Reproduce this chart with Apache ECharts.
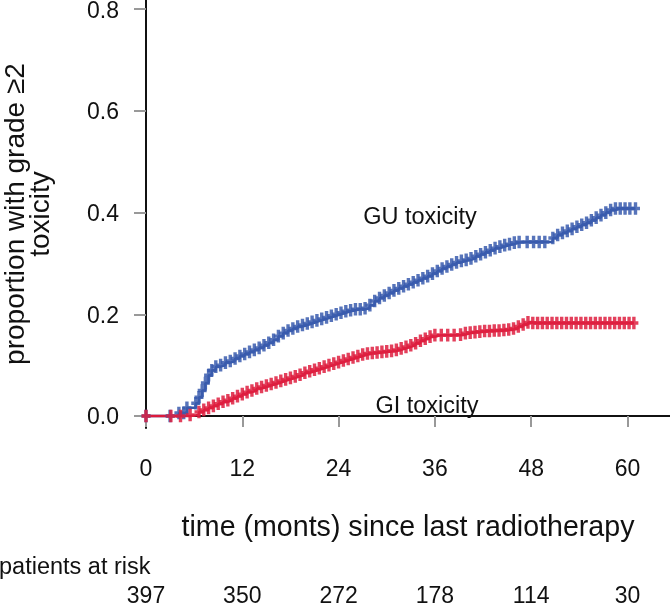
<!DOCTYPE html>
<html>
<head>
<meta charset="utf-8">
<script src="https://cdn.jsdelivr.net/npm/echarts@6/dist/echarts.min.js"></script>
<style>html,body{margin:0;padding:0;background:#fff}#c{width:670px;height:604px}</style>
</head>
<body>
<div id="c"></div>
<script>
// ---- data ----
const xTicks = [0, 12, 24, 36, 48, 60];
const yTicks = [0, 0.2, 0.4, 0.6, 0.8];
const atRisk = [397, 350, 272, 178, 114, 30];

const guTime = [0, 3.0, 4.1, 4.7, 5.1, 6.2, 6.6, 7.0, 7.4, 7.8, 8.2, 8.7, 9.3, 9.9, 10.5, 11.1, 11.7, 12.3, 12.9, 13.5, 14.1, 14.7, 15.3, 15.9, 16.5, 17.1, 17.7, 18.3, 18.9, 19.5, 20.1, 20.7, 21.3, 21.9, 22.5, 23.1, 23.7, 24.3, 24.9, 25.5, 26.1, 26.7, 27.3, 27.9, 28.5, 29.1, 29.7, 30.3, 30.9, 31.5, 32.1, 32.7, 33.3, 33.9, 34.5, 35.1, 35.7, 36.3, 36.9, 37.5, 38.1, 38.7, 39.3, 39.9, 40.5, 41.1, 41.7, 42.3, 42.9, 43.5, 44.1, 44.7, 45.3, 45.9, 46.5, 47.5, 48.3, 49.0, 49.7, 50.7, 51.3, 51.9, 52.5, 53.1, 53.7, 54.3, 54.9, 55.5, 56.1, 56.7, 57.3, 57.9, 58.5, 59.1, 59.7, 60.3, 61.0];
const guValue = [0, 0, 0.006, 0.006, 0.016, 0.025, 0.037, 0.05, 0.065, 0.08, 0.09, 0.097, 0.1, 0.105, 0.108, 0.113, 0.118, 0.122, 0.126, 0.13, 0.134, 0.139, 0.144, 0.15, 0.157, 0.163, 0.168, 0.172, 0.176, 0.179, 0.182, 0.185, 0.188, 0.191, 0.194, 0.197, 0.2, 0.203, 0.206, 0.208, 0.21, 0.21, 0.212, 0.218, 0.226, 0.232, 0.237, 0.242, 0.247, 0.251, 0.255, 0.259, 0.263, 0.267, 0.271, 0.275, 0.28, 0.285, 0.29, 0.294, 0.298, 0.302, 0.305, 0.307, 0.31, 0.314, 0.318, 0.322, 0.326, 0.33, 0.333, 0.336, 0.338, 0.341, 0.342, 0.342, 0.342, 0.342, 0.342, 0.35, 0.356, 0.36, 0.364, 0.368, 0.372, 0.376, 0.38, 0.385, 0.39, 0.395, 0.4, 0.405, 0.408, 0.408, 0.408, 0.408, 0.408];

const giTime = [0, 3.1, 4.3, 5.5, 6.6, 7.2, 7.8, 8.4, 9.0, 9.6, 10.2, 10.8, 11.4, 12.0, 12.6, 13.2, 13.8, 14.4, 15.0, 15.6, 16.2, 16.8, 17.4, 18.0, 18.6, 19.2, 19.8, 20.4, 21.0, 21.6, 22.2, 22.8, 23.4, 24.0, 24.6, 25.2, 25.8, 26.4, 27.0, 27.6, 28.2, 28.8, 29.4, 30.0, 30.6, 31.2, 31.8, 32.4, 33.0, 33.6, 34.2, 34.8, 35.4, 36.0, 36.8, 37.6, 38.4, 39.2, 39.8, 40.4, 41.0, 41.6, 42.2, 42.8, 43.4, 44.0, 44.6, 45.2, 45.8, 46.4, 47.0, 47.6, 48.2, 48.8, 49.4, 50.0, 50.6, 51.2, 51.8, 52.4, 53.0, 53.6, 54.2, 54.8, 55.4, 56.0, 56.6, 57.2, 57.8, 58.4, 59.0, 59.6, 60.2, 60.8];
const giValue = [0, 0, 0, 0.002, 0.008, 0.012, 0.016, 0.02, 0.024, 0.028, 0.031, 0.035, 0.039, 0.043, 0.047, 0.05, 0.054, 0.057, 0.06, 0.063, 0.066, 0.069, 0.072, 0.075, 0.078, 0.081, 0.085, 0.088, 0.091, 0.094, 0.097, 0.1, 0.103, 0.106, 0.109, 0.112, 0.115, 0.118, 0.121, 0.123, 0.124, 0.125, 0.126, 0.127, 0.128, 0.13, 0.133, 0.136, 0.139, 0.143, 0.148, 0.152, 0.156, 0.159, 0.159, 0.159, 0.159, 0.16, 0.163, 0.164, 0.165, 0.166, 0.167, 0.167, 0.168, 0.168, 0.169, 0.17, 0.172, 0.176, 0.18, 0.184, 0.183, 0.183, 0.183, 0.183, 0.183, 0.183, 0.183, 0.183, 0.183, 0.183, 0.183, 0.183, 0.183, 0.183, 0.183, 0.183, 0.183, 0.183, 0.183, 0.183, 0.183, 0.183];

const groupNames = ['GU toxicity', 'GI toxicity'];
const xTitle = 'time (monts) since last radiotherapy';
const yTitle = 'proportion with grade \u22652\ntoxicity';
const riskTitle = 'patients at risk';

// ---- chart ----
const FONT = "'Liberation Sans', Arial, sans-serif";
const plus = 'path://M2.8,0h3.4v4.6h2.8v3.4h-2.8v4.6h-3.4v-4.6h-2.8v-3.4h2.8z';
const zip = (a, b) => a.map((t, i) => [t, b[i]]);

const X_MIN = 0, X_MAX = 65.3, Y_MIN = -0.0236, Y_MAX = 0.818;
const LABEL_SHIFT = 0.004; // labels sit ~2px below their ticks

const chart = echarts.init(document.getElementById('c'), null, {renderer: 'canvas'});
chart.setOption({
  animation: false,
  textStyle: {fontFamily: FONT},
  grid: {left: 146, right: 0, top: 0, bottom: 176, outerBoundsMode: 'none', containLabel: false},
  xAxis: [
    {type: 'value', min: X_MIN, max: X_MAX,
     axisLine: {show: true, lineStyle: {color: '#111', width: 2}},
     axisTick: {show: false}, axisLabel: {show: false}, splitLine: {show: false},
     name: xTitle, nameLocation: 'middle', nameGap: 86,
     nameTextStyle: {fontSize: 28.6, color: '#111', fontFamily: FONT}},
    {type: 'value', min: X_MIN, max: X_MAX, position: 'bottom', offset: 4,
     axisLine: {show: false}, splitLine: {show: false},
     axisTick: {show: true, length: 11, customValues: xTicks, lineStyle: {color: '#999', width: 2}},
     axisLabel: {show: true, customValues: xTicks, margin: 26, fontSize: 23, color: '#111', fontFamily: FONT}},
    {type: 'value', min: X_MIN, max: X_MAX, position: 'bottom', offset: 0,
     axisLine: {show: false}, splitLine: {show: false}, axisTick: {show: false},
     axisLabel: {show: true, customValues: xTicks, margin: 157, fontSize: 23, color: '#111', fontFamily: FONT,
       formatter: v => String(atRisk[xTicks.indexOf(Math.round(v))] ?? '')}}
  ],
  yAxis: [
    {type: 'value', min: Y_MIN, max: Y_MAX,
     axisLine: {show: true, lineStyle: {color: '#111', width: 2}},
     axisTick: {show: false}, axisLabel: {show: false}, splitLine: {show: false},
     name: yTitle, nameLocation: 'middle', nameGap: 92, nameRotate: 90,
     nameTextStyle: {fontSize: 28, lineHeight: 25, color: '#111', fontFamily: FONT, align: 'center'}},
    {type: 'value', min: Y_MIN, max: Y_MAX, position: 'left', offset: 3,
     axisLine: {show: false}, splitLine: {show: false}, axisLabel: {show: false},
     axisTick: {show: true, length: 12, customValues: yTicks, lineStyle: {color: '#999', width: 2}}},
    {type: 'value', min: Y_MIN + LABEL_SHIFT, max: Y_MAX + LABEL_SHIFT, position: 'left', offset: 3,
     axisLine: {show: false}, splitLine: {show: false}, axisTick: {show: false},
     axisLabel: {show: true, customValues: yTicks, margin: 24, fontSize: 23, color: '#111', fontFamily: FONT,
       formatter: v => v.toFixed(1)}}
  ],
  series: [
    {name: groupNames[0], type: 'line', step: 'end', xAxisIndex: 0, yAxisIndex: 0,
     data: zip(guTime, guValue), symbol: plus, symbolSize: [9, 12.6], showSymbol: true,
     lineStyle: {color: '#3557a8', width: 2.5}, itemStyle: {color: '#3a5cae', opacity: 0.85}},
    {name: groupNames[1], type: 'line', step: 'end', xAxisIndex: 0, yAxisIndex: 0,
     data: zip(giTime, giValue), symbol: plus, symbolSize: [9, 12.6], showSymbol: true,
     lineStyle: {color: '#dc1a3c', width: 2.5}, itemStyle: {color: '#de1e40', opacity: 0.85}}
  ],
  graphic: [
    {type: 'text', x: 420, y: 218, style: {text: groupNames[0], font: '23.5px ' + FONT, fill: '#111', align: 'center', verticalAlign: 'middle'}},
    {type: 'text', x: 427, y: 407, style: {text: groupNames[1], font: '23.5px ' + FONT, fill: '#111', align: 'center', verticalAlign: 'middle'}},
    {type: 'text', x: -1, y: 568, style: {text: riskTitle, font: '23.5px ' + FONT, fill: '#111', align: 'left', verticalAlign: 'middle'}}
  ]
});
</script>
</body>
</html>
